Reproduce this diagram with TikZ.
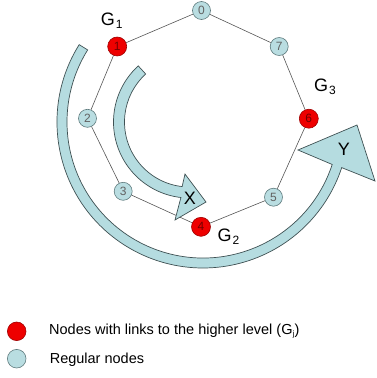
\documentclass[tikz,border=0pt]{standalone}
\usepackage{fontspec}
\usetikzlibrary{calc}
\setmainfont{Liberation Sans}
\definecolor{nblue}{HTML}{B9DDE1}
\definecolor{ablue}{HTML}{B5DCE0}
\definecolor{nedge}{HTML}{5E7A7D}
\definecolor{nred}{HTML}{EE0000}
\definecolor{redge}{HTML}{A00000}
\definecolor{aedge}{HTML}{3F5153}
\definecolor{ledge}{HTML}{555555}
\begin{document}
\begin{tikzpicture}[x=1pt,y=-1pt,
  bnode/.style={circle,minimum size=18pt,inner sep=0pt,fill=nblue,draw=nedge,line width=0.6pt,font=\fontsize{12}{12}\selectfont,text=black!62},
  rnode/.style={bnode,minimum size=19pt,fill=nred,draw=redge,text=red!45!black},
  edge/.style={draw=ledge,line width=0.6pt},
  glabel/.style={anchor=base west,inner sep=0pt,font=\fontsize{18}{18}\selectfont},
  xylabel/.style={anchor=center,inner sep=0pt,font=\fontsize{18}{18}\selectfont},
  legtext/.style={anchor=base west,inner sep=0pt,font=\fontsize{14.5}{14.5}\selectfont},
  bigarrow/.style={fill=ablue,draw=aedge,line width=0.7pt,line join=miter}
]
\useasboundingbox (0,0) rectangle (376,378);

% ring nodes
\node[bnode] (n0) at (201.5,10.5) {0};
\node[rnode] (n1) at (117.2,46.5) {1};
\node[bnode] (n2) at (87.5,118.3) {2};
\node[bnode] (n3) at (123.2,191.3) {3};
\node[rnode] (n4) at (201,226.8) {4};
\node[bnode] (n5) at (273.5,197.2) {5};
\node[rnode] (n6) at (308.8,118.7) {6};
\node[bnode] (n7) at (279.2,46.5) {7};

% ring edges
\path[edge] (n0) -- (n1) -- (n2) -- (n3) -- (n4) -- (n5) -- (n6) -- (n7) -- (n0);

% centres of the two circular arrows
\coordinate (cy) at (203,122);
\coordinate (cx) at (189.5,122);

% Y arrow
\draw[bigarrow] (cy) ++(212:146) arc[start angle=212,end angle=18.2,radius=146]
  -- (375,181) -- (357,125) -- (298,150)
  -- ($(cy)+(18.2:136)$) arc[start angle=18.2,end angle=212,radius=136] -- cycle;

% X arrow
\draw[bigarrow] (cx) ++(227.6:76) arc[start angle=227.6,end angle=96.5,radius=76]
  -- (175,220) -- (206,202) -- (185,174)
  -- ($(cx)+(96.5:65)$) arc[start angle=96.5,end angle=227.6,radius=65] -- cycle;

% labels
\node[xylabel] (lx) at (190,198.7) {X};
\node[xylabel] (ly) at (344,149.5) {Y};
\node[glabel] (g1) at (100.6,25.5) {G\kern1pt\raisebox{-3pt}{\fontsize{12}{12}\selectfont 1}};
\node[glabel] (g2) at (217.3,241.5) {G\kern1pt\raisebox{-3pt}{\fontsize{12}{12}\selectfont 2}};
\node[glabel] (g3) at (313.9,91) {G\kern1pt\raisebox{-3pt}{\fontsize{12}{12}\selectfont 3}};

% legend
\node[circle,minimum size=18.6pt,inner sep=0pt,fill=nred,draw=redge,line width=0.6pt] (lr) at (16.7,331.3) {};
\node[circle,minimum size=18.6pt,inner sep=0pt,fill=nblue,draw=nedge,line width=0.6pt] (lb) at (16.7,358.7) {};
\node[legtext] (lt1) at (49,334) {Nodes with links to the higher level (G\kern0.3pt\raisebox{-2.5pt}{\fontsize{8}{8}\selectfont j})};
\node[legtext] (lt2) at (49.6,363.3) {Regular nodes};
\end{tikzpicture}
\end{document}
